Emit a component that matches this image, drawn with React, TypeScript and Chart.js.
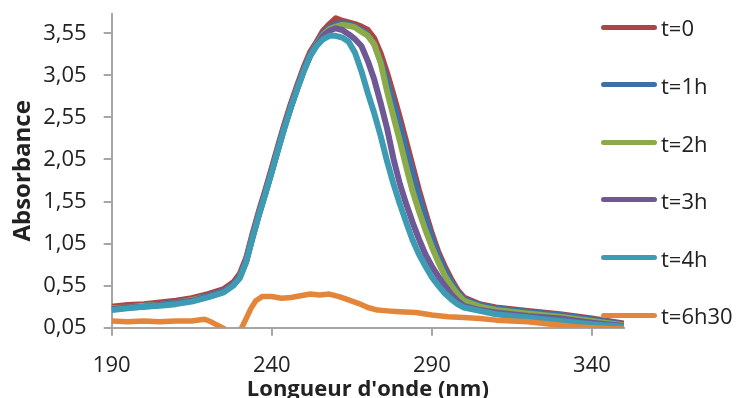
import React, { useEffect, useRef } from 'react';
import { Chart, registerables } from 'chart.js';

Chart.register(...registerables);

// ---- data ----
const seriesNames = ['t=0', 't=1h', 't=2h', 't=3h', 't=4h', 't=6h30'];
const seriesColors = ['#AE4542', '#3D6FAB', '#8BAA4A', '#6E5896', '#3E9BB4', '#E4863A'];

const wavelengths = [
  190, 195, 200, 205, 210, 215, 220, 225, 228,
  230, 232, 234, 236, 238, 240, 242, 244, 246, 248, 250, 252,
  254, 256, 258, 260, 262, 264, 266, 268, 270, 272, 274, 276, 278, 280,
  282, 284, 286, 288, 290, 292, 294, 296, 298, 300,
  305, 310, 320, 330, 340, 350,
];

const absT0 = [
  0.30, 0.32, 0.33, 0.35, 0.37, 0.40, 0.45, 0.51, 0.59,
  0.69, 0.88, 1.17, 1.44, 1.69, 1.95, 2.22, 2.48, 2.72, 2.94, 3.15, 3.33,
  3.45, 3.58, 3.66, 3.73, 3.70, 3.68, 3.66, 3.63, 3.59, 3.49, 3.31, 3.08, 2.82, 2.55,
  2.26, 1.97, 1.68, 1.42, 1.17, 0.95, 0.78, 0.63, 0.50, 0.41,
  0.33, 0.29, 0.25, 0.21, 0.16, 0.10,
];
const absT1 = [
  0.27, 0.29, 0.31, 0.33, 0.35, 0.38, 0.43, 0.49, 0.57,
  0.66, 0.85, 1.14, 1.41, 1.66, 1.92, 2.19, 2.45, 2.69, 2.91, 3.12, 3.30,
  3.43, 3.55, 3.62, 3.66, 3.67, 3.66, 3.63, 3.59, 3.53, 3.42, 3.22, 2.99, 2.73, 2.46,
  2.17, 1.89, 1.61, 1.36, 1.12, 0.91, 0.74, 0.60, 0.48, 0.39,
  0.32, 0.28, 0.24, 0.20, 0.15, 0.09,
];
const absT2 = [
  0.28, 0.29, 0.31, 0.32, 0.34, 0.38, 0.42, 0.48, 0.56,
  0.65, 0.84, 1.13, 1.40, 1.65, 1.91, 2.18, 2.44, 2.68, 2.90, 3.11, 3.29,
  3.42, 3.53, 3.60, 3.63, 3.65, 3.64, 3.62, 3.57, 3.52, 3.42, 3.20, 2.86, 2.56, 2.27,
  1.96, 1.67, 1.43, 1.21, 1.01, 0.83, 0.67, 0.55, 0.45, 0.37,
  0.30, 0.26, 0.22, 0.18, 0.13, 0.08,
];
const absT3 = [
  0.27, 0.29, 0.30, 0.32, 0.34, 0.37, 0.42, 0.48, 0.56,
  0.65, 0.84, 1.13, 1.40, 1.65, 1.91, 2.18, 2.44, 2.68, 2.90, 3.11, 3.29,
  3.41, 3.52, 3.58, 3.61, 3.59, 3.54, 3.48, 3.40, 3.22, 3.00, 2.72, 2.42, 2.06, 1.76,
  1.52, 1.30, 1.10, 0.92, 0.78, 0.66, 0.55, 0.45, 0.37, 0.31,
  0.26, 0.23, 0.19, 0.16, 0.11, 0.07,
];
const absT4 = [
  0.26, 0.28, 0.30, 0.31, 0.33, 0.36, 0.41, 0.47, 0.55,
  0.64, 0.83, 1.12, 1.39, 1.64, 1.90, 2.17, 2.43, 2.67, 2.89, 3.10, 3.28,
  3.40, 3.48, 3.52, 3.52, 3.50, 3.45, 3.32, 3.10, 2.84, 2.60, 2.33, 2.03, 1.76, 1.52,
  1.30, 1.09, 0.92, 0.78, 0.65, 0.55, 0.46, 0.39, 0.33, 0.29,
  0.25, 0.21, 0.17, 0.13, 0.09, 0.06,
];

const wavelengths6h30 = [
  190, 195, 200, 205, 210, 215, 219, 221, 223, 225, 227, 229,
  230.5, 232, 233.5, 235, 237, 240, 243, 246, 249, 252, 255, 258, 261, 264, 267, 270,
  273, 276, 280, 285, 290, 295, 300, 305, 310, 315, 320, 325, 330, 335, 340, 345, 350,
];
const absT6h30 = [
  0.13, 0.12, 0.13, 0.12, 0.13, 0.13, 0.15, 0.12, 0.08, 0.04, -0.05, -0.05,
  0.04, 0.16, 0.28, 0.37, 0.42, 0.42, 0.40, 0.41, 0.43, 0.45, 0.44, 0.45, 0.42, 0.38, 0.34, 0.29,
  0.26, 0.25, 0.24, 0.23, 0.20, 0.18, 0.17, 0.16, 0.14, 0.13, 0.12, 0.10, 0.08, 0.06, 0.05, 0.04, 0.035,
];

const xTicks = [190, 240, 290, 340];
const yTicks = [0.05, 0.55, 1.05, 1.55, 2.05, 2.55, 3.05, 3.55];
const xMin = 190;
const xMax = 350;
const yMin = 0.05;
const yMax = 3.78;
const xTitle = "Longueur d'onde (nm)";
const yTitle = 'Absorbance';

const FONT = "'Open Sans', sans-serif";
const TEXT = '#222222';
const AXIS = '#a6a6a6';

const toPoints = (xs: number[], ys: number[]) => xs.map((x, i) => ({ x, y: ys[i] }));

export default function App() {
  const canvasRef = useRef<HTMLCanvasElement | null>(null);

  useEffect(() => {
    const canvas = canvasRef.current;
    if (!canvas) return;
    const allY = [absT0, absT1, absT2, absT3, absT4];
    const datasets: any[] = allY.map((ys, i) => ({
      label: seriesNames[i],
      data: toPoints(wavelengths, ys),
      borderColor: seriesColors[i],
      backgroundColor: seriesColors[i],
      borderWidth: 6,
      pointRadius: 0,
      tension: 0,
      borderJoinStyle: 'round',
      borderCapStyle: 'butt',
      clip: 0,
      order: 10 - i,
    }));
    datasets.push({
      label: seriesNames[5],
      data: toPoints(wavelengths6h30, absT6h30),
      borderColor: seriesColors[5],
      backgroundColor: seriesColors[5],
      borderWidth: 5.5,
      pointRadius: 0,
      tension: 0,
      borderJoinStyle: 'round',
      borderCapStyle: 'butt',
      clip: 0,
      order: 1,
    });

    const chart = new Chart(canvas, {
      type: 'line',
      data: { datasets },
      options: {
        animation: false,
        responsive: false,
        maintainAspectRatio: false,
        layout: { padding: { left: 0, top: 14, right: 113, bottom: 0 } },
        plugins: { legend: { display: false }, tooltip: { enabled: false } },
        scales: {
          x: {
            type: 'linear',
            min: xMin,
            max: xMax,
            afterBuildTicks: (scale: any) => {
              scale.ticks = xTicks.map((v) => ({ value: v }));
            },
            afterFit: (scale: any) => {
              scale.height = 70.3;
              scale.paddingLeft = 0;
              scale.paddingRight = 0;
            },
            grid: { drawOnChartArea: false, drawTicks: true, tickLength: 8, color: AXIS, lineWidth: 2 },
            border: { color: AXIS, width: 2 },
            ticks: {
              color: TEXT,
              font: { family: FONT, size: 22 },
              padding: 17,
              maxRotation: 0,
              callback: (v: any) => String(v),
            },
            title: {
              display: true,
              text: xTitle,
              color: TEXT,
              font: { family: FONT, size: 22, weight: 'bold', lineHeight: 1 },
              padding: { top: 0, bottom: -3 },
            },
          },
          y: {
            type: 'linear',
            min: yMin,
            max: yMax,
            afterBuildTicks: (scale: any) => {
              scale.ticks = yTicks.map((v) => ({ value: v }));
            },
            afterFit: (scale: any) => {
              scale.width = 111.7;
              scale.paddingTop = 0;
              scale.paddingBottom = 0;
            },
            grid: { drawOnChartArea: false, drawTicks: true, tickLength: 8, color: AXIS, lineWidth: 2 },
            border: { color: AXIS, width: 2 },
            ticks: {
              color: TEXT,
              font: { family: FONT, size: 22 },
              padding: 17,
              callback: (v: any) => Number(v).toFixed(2).replace('.', ','),
            },
            title: {
              display: true,
              text: yTitle,
              color: TEXT,
              font: { family: FONT, size: 24, weight: 'bold', lineHeight: 1 },
              padding: { top: 11, bottom: 0 },
            },
          },
        },
      },
    });
    return () => chart.destroy();
  }, []);

  const legendTop = 27;
  const legendStep = 57.6;

  return (
    <div style={{ position: 'fixed', left: 0, top: 0, width: 737, height: 398, background: '#fff', overflow: 'hidden' }}>
      <canvas ref={canvasRef} width={737} height={398} style={{ position: 'absolute', left: 0, top: 0, width: 737, height: 398 }} />
      {seriesNames.map((name, i) => {
        const yc = legendTop + i * legendStep;
        return (
          <React.Fragment key={name}>
            <div
              style={{
                position: 'absolute',
                left: 601,
                top: yc - 2.5,
                width: 56,
                height: 5,
                borderRadius: 2.5,
                background: seriesColors[i],
              }}
            />
            <div
              style={{
                position: 'absolute',
                left: 661,
                top: yc - 10.7,
                height: 22,
                lineHeight: '22px',
                fontSize: 22,
                fontFamily: FONT,
                color: TEXT,
                whiteSpace: 'nowrap',
              }}
            >
              {name}
            </div>
          </React.Fragment>
        );
      })}
    </div>
  );
}
